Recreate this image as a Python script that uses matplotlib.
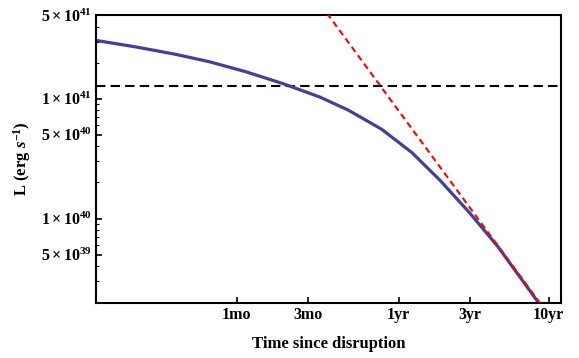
import numpy as np
import matplotlib.pyplot as plt
from matplotlib.ticker import FixedLocator, NullFormatter

plt.rcParams['font.family'] = ['Liberation Serif', 'DejaVu Serif']
plt.rcParams['font.weight'] = 'bold'
plt.rcParams['mathtext.fontset'] = 'custom'
plt.rcParams['mathtext.rm'] = 'Liberation Serif:bold'
plt.rcParams['mathtext.bf'] = 'Liberation Serif:bold'
plt.rcParams['mathtext.it'] = 'Liberation Serif:bold:italic'

# blue curve (time in years, L in erg/s)
t_curve = [0.00959, 0.01746, 0.03228, 0.05521, 0.09661, 0.1694, 0.2985, 0.4613,
           0.7709, 1.227, 1.884, 2.985, 4.592, 8.492]
L_curve = [3.069e41, 2.716e41, 2.355e41, 2.032e41, 1.675e41, 1.337e41, 1.033e41, 8.04e40,
           5.56e40, 3.548e40, 2.089e40, 1.109e40, 5.821e39, 2.01e39]

# red t^-5/3 line, end points
t_fall = [0.333, 8.75]
L_fall = [5.17e41, 1.97e39]

# horizontal dashed level
L_edd = 1.29e41

xticks = [1 / 12, 0.25, 1, 3, 10]
xlabels = ['1mo', '3mo', '1yr', '3yr', '10yr']
yticks = [5e39, 1e40, 5e40, 1e41, 5e41]
ylabels = [r'$5\times10^{39}$', r'$1\times10^{40}$', r'$5\times10^{40}$',
           r'$1\times10^{41}$', r'$5\times10^{41}$']
yminor = [2e39, 3e39, 4e39, 6e39, 7e39, 8e39, 9e39, 2e40, 3e40, 4e40, 6e40, 7e40,
          8e40, 9e40, 2e41, 3e41, 4e41]

fig = plt.figure(figsize=(5.79, 3.58), dpi=100)
ax = fig.add_axes([0.1658, 0.1536, 0.8032, 0.8044])

ax.plot(t_curve, L_curve, color='#4040a0', lw=2.3, solid_joinstyle='round', zorder=2)
ax.plot(t_fall, L_fall, color='#ff0000', lw=1.5, dashes=(3, 2), zorder=3)
ax.axhline(L_edd, color='black', lw=1.5, dashes=(4.5, 2.5), zorder=1)

ax.set_xscale('log')
ax.set_yscale('log')
ax.set_xlim(0.0096, 12.1)
ax.set_ylim(1.97e39, 5e41)

ax.xaxis.set_major_locator(FixedLocator(xticks))
ax.set_xticklabels(xlabels)
ax.xaxis.set_minor_formatter(NullFormatter())
ax.xaxis.set_minor_locator(FixedLocator([]))
ax.yaxis.set_major_locator(FixedLocator(yticks))
ax.set_yticklabels(ylabels)
ax.yaxis.set_minor_locator(FixedLocator(yminor))
ax.yaxis.set_minor_formatter(NullFormatter())

ax.tick_params(which='major', direction='in', length=4, width=1.2, labelsize=11.5)
ax.tick_params(axis='x', pad=3)
ax.tick_params(axis='y', pad=3)
ax.tick_params(which='minor', direction='in', length=2, width=0.8)
ax.tick_params(top=False, right=False)
for s in ax.spines.values():
    s.set_linewidth(1.5)

ax.set_xlabel('Time since disruption', fontsize=12, fontweight='bold', labelpad=9)
ax.set_ylabel(r'L (erg $s^{-1}$)', fontsize=12, fontweight='bold', labelpad=6)

fig.savefig('out.png', dpi=100)
